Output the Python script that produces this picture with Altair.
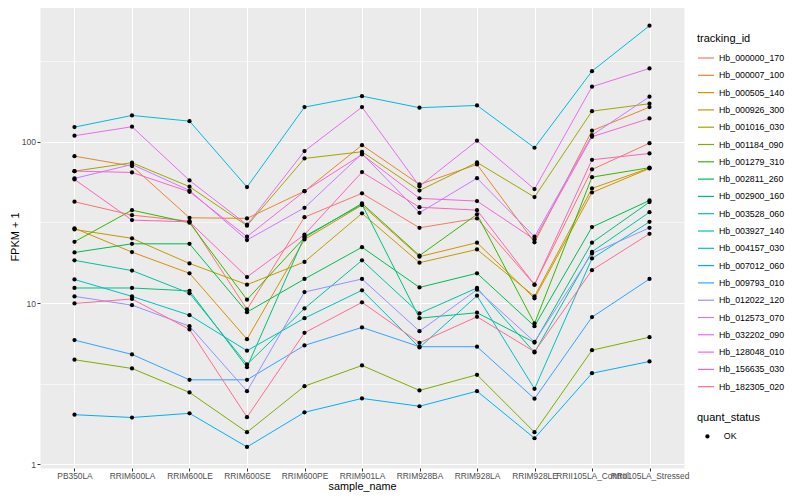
import altair as alt
import pandas as pd

samples = ["PB350LA", "RRIM600LA", "RRIM600LE", "RRIM600SE", "RRIM600PE",
           "RRIM901LA", "RRIM928BA", "RRIM928LA", "RRIM928LE",
           "RRII105LA_Control", "RRII105LA_Stressed"]

tracking_ids = ["Hb_000000_170", "Hb_000007_100", "Hb_000505_140", "Hb_000926_300",
                "Hb_001016_030", "Hb_001184_090", "Hb_001279_310", "Hb_002811_260",
                "Hb_002900_160", "Hb_003528_060", "Hb_003927_140", "Hb_004157_030",
                "Hb_007012_060", "Hb_009793_010", "Hb_012022_120", "Hb_012573_070",
                "Hb_032202_090", "Hb_128048_010", "Hb_156635_030", "Hb_182305_020"]

palette = ["#F8766D", "#EA8331", "#D89000", "#C09B00", "#A3A500", "#7CAE00",
           "#39B600", "#00BB4E", "#00BF7D", "#00C1A3", "#00BFC4", "#00BAE0",
           "#00B0F6", "#35A2FF", "#9590FF", "#C77CFF", "#E76BF3", "#FA62DB",
           "#FF62BC", "#FF6C91"]

hb_000000_170 = [42.5, 35.1, 32.2, 9.13, 34.1, 47.9, 29.3, 33.5, 13.0, 67.4, 98.1]
hb_000007_100 = [81.5, 70.7, 33.8, 33.5, 49.4, 95.4, 54.4, 72.4, 23.8, 117.2, 164.2]
hb_000505_140 = [29.1, 20.7, 15.3, 5.97, 24.8, 40.5, 19.4, 23.7, 10.7, 48.5, 68.4]
hb_000926_300 = [28.6, 25.2, 17.6, 13.0, 18.0, 36.0, 17.8, 21.5, 11.0, 51.4, 68.8]
hb_001016_030 = [65.8, 74.2, 52.7, 30.2, 78.9, 86.8, 49.9, 74.5, 45.4, 155.0, 172.3]
hb_001184_090 = [4.45, 3.93, 2.79, 1.58, 3.05, 4.10, 2.87, 3.59, 1.58, 5.10, 6.14]
hb_001279_310 = [24.0, 37.7, 31.5, 10.5, 25.5, 41.5, 19.7, 35.5, 7.47, 60.4, 69.1]
hb_002811_260 = [20.6, 23.3, 23.3, 8.78, 14.1, 22.2, 12.5, 15.3, 7.19, 29.6, 43.3]
hb_002900_160 = [12.4, 12.4, 11.9, 4.00, 25.9, 40.9, 8.06, 8.71, 5.69, 23.7, 42.3]
hb_003528_060 = [18.4, 15.9, 11.5, 4.16, 9.26, 18.4, 8.62, 12.4, 4.94, 20.8, 36.6]
hb_003927_140 = [14.0, 11.0, 8.41, 5.06, 8.06, 12.0, 5.30, 11.1, 2.94, 18.9, 31.9]
hb_004157_030 = [123.4, 145.8, 134.4, 52.4, 164.2, 192.1, 162.8, 168.2, 91.9, 274.5, 525.1]
hb_007012_060 = [2.03, 1.95, 2.07, 1.28, 2.10, 2.56, 2.29, 2.84, 1.45, 3.67, 4.34]
hb_009793_010 = [5.89, 4.80, 3.34, 3.34, 5.46, 7.06, 5.36, 5.36, 2.55, 8.18, 14.1]
hb_012022_120 = [11.0, 9.70, 7.19, 2.84, 11.7, 14.1, 6.69, 12.1, 5.75, 20.3, 29.3]
hb_012573_070 = [59.3, 72.4, 49.9, 24.6, 39.0, 84.4, 36.3, 59.5, 25.8, 110.0, 190.5]
hb_032202_090 = [109.1, 124.1, 57.6, 30.6, 87.6, 164.2, 53.1, 101.6, 50.9, 219.7, 285.3]
hb_128048_010 = [65.8, 64.6, 49.0, 25.8, 49.4, 83.5, 44.6, 42.9, 24.8, 107.5, 139.7]
hb_156635_030 = [58.4, 32.7, 31.9, 14.5, 26.6, 64.9, 39.3, 37.7, 13.0, 77.4, 84.7]
hb_182305_020 = [9.94, 10.6, 6.86, 1.96, 6.54, 10.1, 5.67, 8.22, 4.99, 16.0, 26.9]

series = [hb_000000_170, hb_000007_100, hb_000505_140, hb_000926_300,
          hb_001016_030, hb_001184_090, hb_001279_310, hb_002811_260,
          hb_002900_160, hb_003528_060, hb_003927_140, hb_004157_030,
          hb_007012_060, hb_009793_010, hb_012022_120, hb_012573_070,
          hb_032202_090, hb_128048_010, hb_156635_030, hb_182305_020]

rows = []
for tid, vals in zip(tracking_ids, series):
    for i, (s, v) in enumerate(zip(samples, vals)):
        rows.append({"tracking_id": tid, "sample_name": s, "idx": i,
                     "fpkm1": v, "quant_status": "OK"})
df = pd.DataFrame(rows)

FONT = "Liberation Sans"
major_test = "datum.value == 1 || datum.value == 10 || datum.value == 100"

x_enc = alt.X(
    "sample_name:N", sort=samples, title="sample_name",
    scale=alt.Scale(type="point", padding=0.6),
    axis=alt.Axis(labelAngle=0, labelOverlap=False, grid=True, gridColor="white",
                  gridWidth=1.07, domain=False, tickColor="#333333", tickSize=3,
                  tickWidth=1, labelColor="#4D4D4D", labelFontSize=8.4,
                  labelPadding=0, titleFontSize=10.8, titleColor="black",
                  titleFontWeight="normal", titlePadding=1))

y_enc = alt.Y(
    "fpkm1:Q", title="FPKM + 1",
    scale=alt.Scale(type="log", domain=[0.948, 706], nice=False, zero=False),
    axis=alt.Axis(values=[1, 3.16228, 10, 31.6228, 100, 316.228],
                  labelExpr="(" + major_test + ") ? datum.label : ''",
                  grid=True, gridColor="white",
                  gridWidth={"condition": {"test": major_test, "value": 1.07}, "value": 0.55},
                  tickOpacity={"condition": {"test": major_test, "value": 1}, "value": 0},
                  domain=False, tickColor="#333333", tickSize=3, tickWidth=1,
                  labelColor="#4D4D4D", labelFontSize=8.6, labelPadding=1.5,
                  titleFontSize=11, titleColor="black", titleFontWeight="normal",
                  titlePadding=1))

lines = alt.Chart(df).mark_line(strokeWidth=1).encode(
    x=x_enc, y=y_enc,
    color=alt.Color("tracking_id:N",
                    scale=alt.Scale(domain=tracking_ids, range=palette),
                    legend=alt.Legend(orient="none", legendX=657, legendY=28,
                                      title="tracking_id", symbolType="stroke",
                                      symbolSize=256, symbolStrokeWidth=1.2,
                                      rowPadding=3.3, titlePadding=5,
                                      labelFontSize=8.8, titleFontSize=11,
                                      titleFontWeight="normal", labelColor="black",
                                      titleColor="black", labelOffset=4, padding=0)),
    order=alt.Order("idx:Q"),
)

points = alt.Chart(df).mark_point(filled=True, color="black", size=18, opacity=1).encode(
    x=x_enc, y=y_enc,
    shape=alt.Shape("quant_status:N", scale=alt.Scale(range=["circle"]),
                    legend=alt.Legend(orient="none", legendX=657, legendY=407,
                                      title="quant_status", symbolSize=18,
                                      symbolFillColor="black", symbolStrokeColor="black",
                                      titlePadding=9, symbolOffset=6,
                                      labelFontSize=8.8, titleFontSize=11,
                                      titleFontWeight="normal", labelColor="black",
                                      titleColor="black", labelOffset=12, padding=0)),
)

chart = alt.layer(lines, points).properties(
    width=644, height=463,
    autosize=alt.AutoSizeParams(type="none"),
    padding={"left": 32, "top": -3, "right": 108, "bottom": 24},
).configure(font=FONT, background="white").configure_view(
    fill="#EBEBEB", stroke="transparent")

chart.save("out.html", embed_options={"renderer": "svg", "actions": False})
